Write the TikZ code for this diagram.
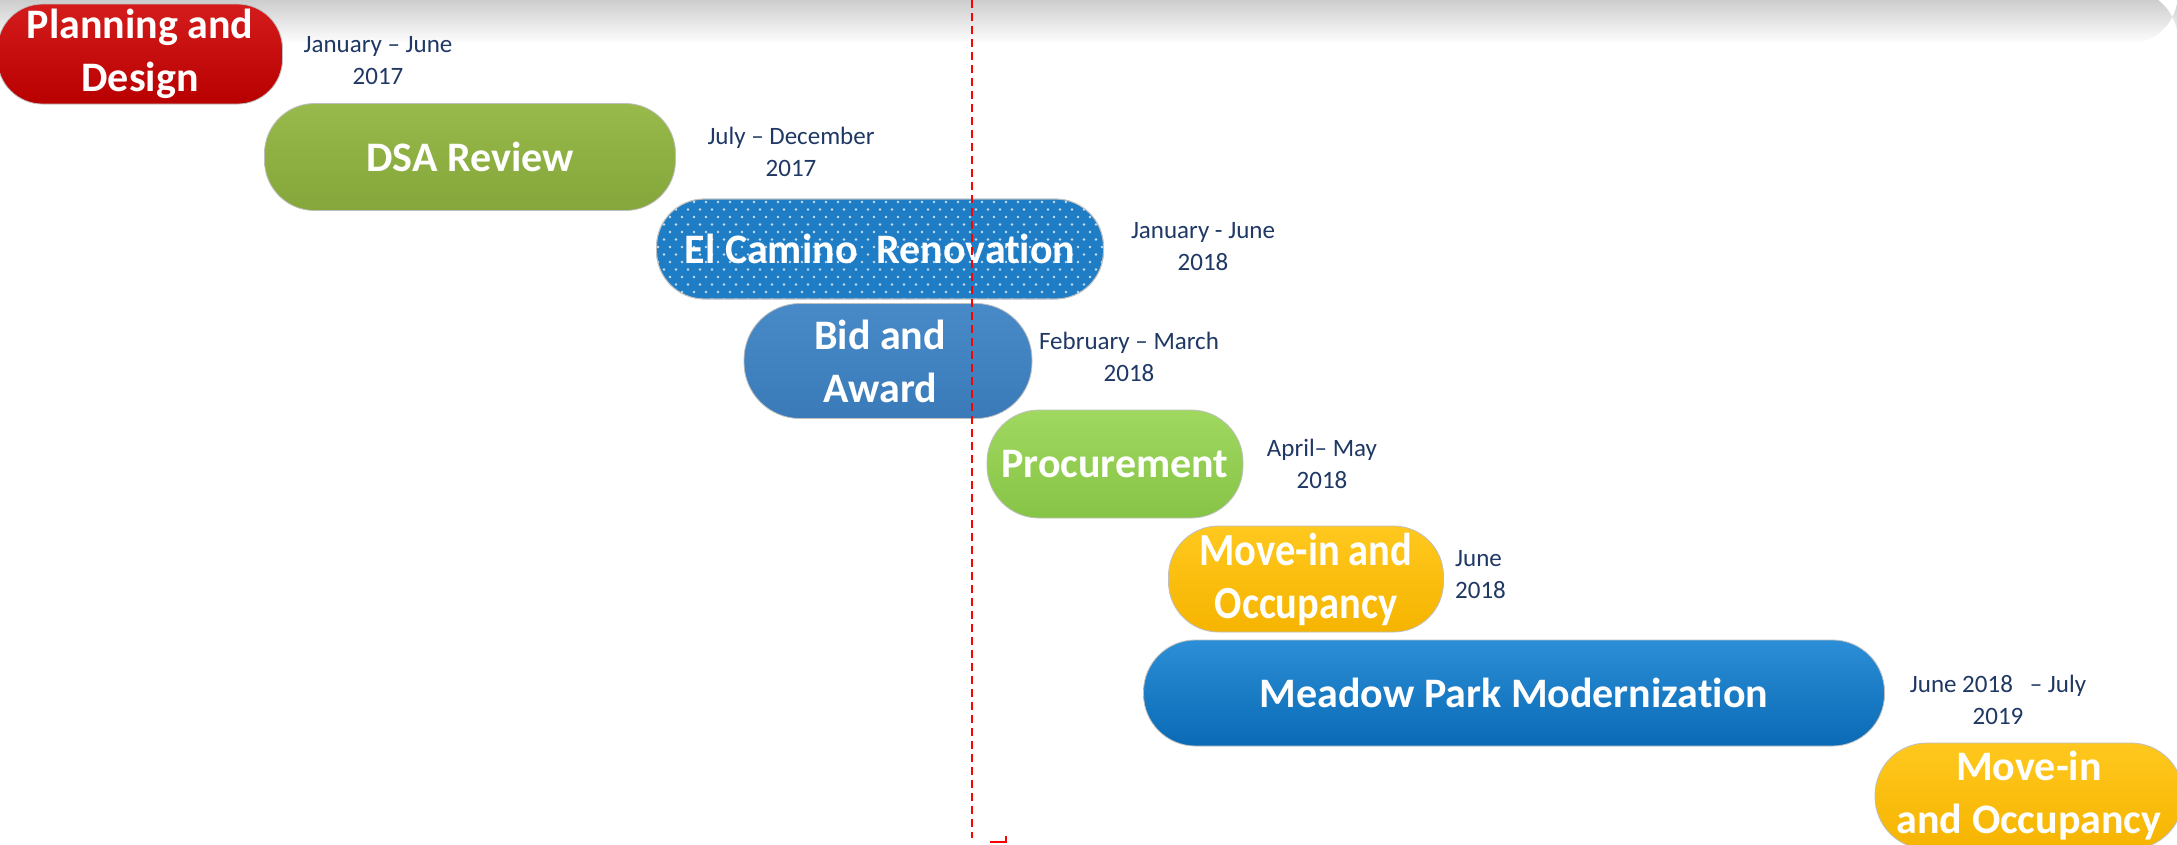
\documentclass[tikz,border=0pt]{standalone}
\usepackage{fontspec}
\setmainfont{Carlito}[Ligatures={NoCommon,NoContextual}]
\definecolor{datec}{RGB}{31,56,100}
\definecolor{redT}{RGB}{212,28,28}\definecolor{redB}{RGB}{184,0,0}
\definecolor{olT}{RGB}{152,186,76}\definecolor{olB}{RGB}{132,166,58}
\definecolor{elc}{RGB}{30,125,196}
\definecolor{bidT}{RGB}{72,138,200}\definecolor{bidB}{RGB}{58,122,184}
\definecolor{grT}{RGB}{160,216,96}\definecolor{grB}{RGB}{134,196,70}
\definecolor{yeT}{RGB}{255,200,30}\definecolor{yeB}{RGB}{246,180,0}
\definecolor{mdT}{RGB}{44,142,214}\definecolor{mdB}{RGB}{10,106,182}
\tikzset{
  pill/.style={rounded corners=#1, inner sep=0pt, align=center, text=white,
    font=\fontsize{42}{53}\selectfont\bfseries, draw=black!25, line width=0.8pt},
  datelbl/.style={align=center, text=datec, inner sep=0pt,
    font=\fontsize{25}{32}\selectfont},
  todayline/.style={red, line width=2pt, dash pattern=on 8pt off 5pt}
}
\begin{document}
\begin{tikzpicture}[x=1pt,y=-1pt]
\useasboundingbox (0,0) rectangle (2177,844);
\fill[white] (0,0) rectangle (2177,844);
% banner
\shade[top color=black!24, bottom color=white, rounded corners=50] (-60,-10) rectangle (2178,44);
\fill[white] (-60,42) rectangle (2178,46);
% bars
\node[pill=45, top color=redT, bottom color=redB, minimum width=285, minimum height=100] (plan) at (140,54) {Planning and\\Design};
\node[pill=50, top color=olT, bottom color=olB, minimum width=411, minimum height=107] (dsa) at (470,157) {DSA Review};
% El Camino with dot pattern
\node[pill=48, fill=elc, minimum width=447, minimum height=100] (elc) at (880,249) {};
\begin{scope}
  \clip[rounded corners=48] (656.5,199) rectangle (1103.5,299);
  \foreach \j in {0,...,13}{\foreach \i in {0,...,38}{
    \fill[white,opacity=.75] ({658+\i*12+mod(\j,2)*6},{202+\j*7.5}) circle (1.3pt);}}
\end{scope}
\draw[black!25, line width=0.8pt, rounded corners=48] (656.5,199) rectangle (1103.5,299);
\node[pill=48, draw=none, inner sep=0pt] (elct) at (elc.center) {El Camino\ \ Renovation};
\node[pill=56, top color=bidT, bottom color=bidB, minimum width=288, minimum height=115] (bid) at (888,361) {Bid and\hspace*{16pt}\\Award\hspace*{16pt}};
\node[pill=52, top color=grT, bottom color=grB, minimum width=256, minimum height=108] (proc) at (1115,464) {Procurement};
\node[pill=50, top color=yeT, bottom color=yeB, minimum width=275, minimum height=106,
  font=\fontsize{46}{53}\selectfont\bfseries] (mv1) at (1306,579) {\scalebox{0.88}[1]{Move-in and}\\\scalebox{0.88}[1]{Occupancy}};
\node[pill=52, top color=mdT, bottom color=mdB, minimum width=741, minimum height=106] (mdw) at (1514,693) {Meadow Park Modernization};
\node[pill=52, top color=yeT, bottom color=yeB, minimum width=308, minimum height=106] (mv2) at (2029,796) {Move-in\\and Occupancy};
% dates
\node[datelbl] (d1) at (378,61) {January -- June\\2017};
\node[datelbl] (d2) at (791,152) {July -- December\\2017};
\node[datelbl] (d3) at (1203,247) {January - June\\2018};
\node[datelbl] (d4) at (1129,357) {February -- March\\2018};
\node[datelbl] (d5) at (1322,464) {April-- May\\2018};
\node[datelbl, align=left, anchor=west] (d6) at (1455,575) {June\\2018};
\node[datelbl] (d7) at (1998,700) {June 2018\ \ \ -- July\\2019};
% today marker
\coordinate (t0) at (972,0);
\coordinate (t1) at (972,838);
\draw[todayline] (t0) -- (t1);
\coordinate (m0) at (990,842);
\coordinate (m1) at (1006,842);
\coordinate (m2) at (1006,836);
\draw[red, line width=1.5pt] (m0) -- (m1) -- (m2);
\end{tikzpicture}
\end{document}
